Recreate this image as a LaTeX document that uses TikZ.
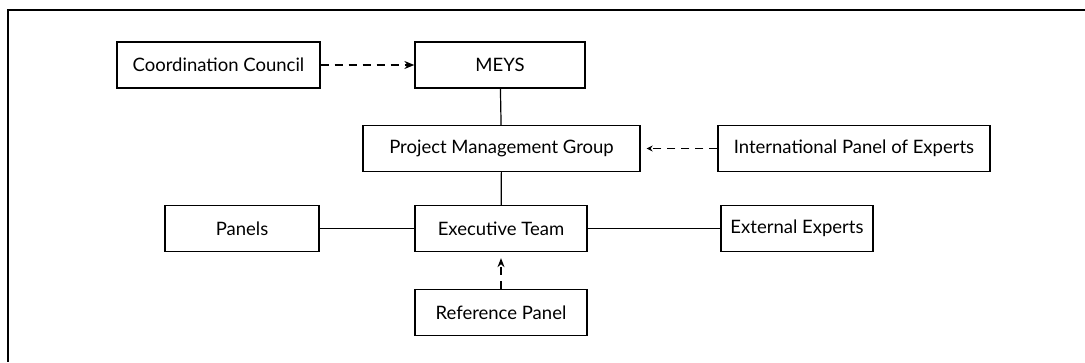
\documentclass[tikz,border=0pt]{standalone}
\usepackage{fontspec}
\setmainfont{Lato}
\usepackage{tikz}
\usetikzlibrary{arrows.meta,positioning}

\begin{document}
\begin{tikzpicture}[x=1pt, y=-1pt, >={Stealth[length=10pt,width=8pt]},
    orgbox/.style={draw, line width=1.3pt, minimum height=46pt, inner sep=0pt, font=\fontsize{18.5}{22}\selectfont},
    link/.style={line width=1.2pt},
    dashlink/.style={line width=1.2pt, dash pattern=on 8pt off 6pt}]

    \useasboundingbox (0,0) rectangle (1085,362);

    % Frame (top and left only)
    \draw[line width=2pt] (1085,10) -- (8,10) -- (8,362);

    % Top level
    \node[orgbox, minimum width=203pt] (council) at (218.5,65) {Coordination Council};
    \node[orgbox, minimum width=170pt] (meys) at (500,65) {MEYS};

    % Management
    \node[orgbox, minimum width=277pt] (pmg) at (501.5,148.5) {Project Management Group};
    \node[orgbox, minimum width=272pt] (intl) at (854,148.5) {International Panel of Experts};

    % Executive level
    \node[orgbox, minimum width=154pt] (panels) at (242,228.5) {Panels};
    \node[orgbox, minimum width=172pt] (exec) at (501,228.5) {Executive Team};
    \node[orgbox, minimum width=152pt] (extern) at (797,228.5) {External Experts};
    \node[orgbox, minimum width=172pt] (refpanel) at (501,312.5) {Reference Panel};

    % Connectors
    \draw[dashlink, ->] (council) -- (meys);
    \draw[link] (meys) -- (pmg);
    \draw[dashlink, -{Stealth[length=6pt,width=6pt]}, shorten >=6pt] (intl) -- (pmg);
    \draw[link] (pmg) -- (exec);
    \draw[link] (panels) -- (exec);
    \draw[link] (exec) -- (extern);
    \draw[dashlink, -{Stealth[length=9pt,width=7pt]}, shorten >=6pt] (refpanel) -- (exec);

\end{tikzpicture}
\end{document}
